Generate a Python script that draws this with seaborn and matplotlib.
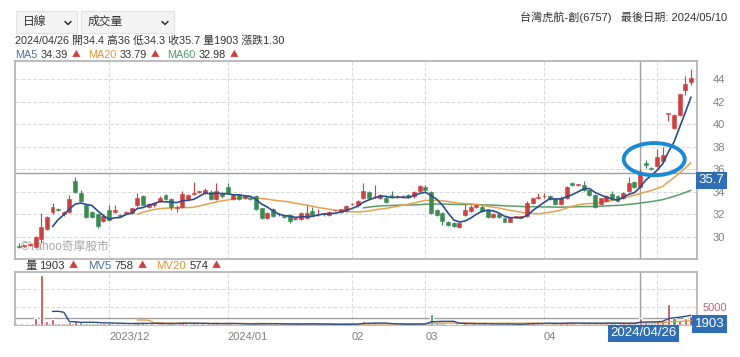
import numpy as np
import pandas as pd
import seaborn as sns
import matplotlib.pyplot as plt
from matplotlib.patches import Ellipse, Rectangle
from matplotlib.lines import Line2D

# 日K資料 (index 0 = 2023/11/09 ... index 119 = 2024/05/10)
opens = [29.2, 29.2, 29.3, 29.1, 29.85, 30.7, 32.2, 32.4, 32.0, 32.2,
         35.0, 33.9, 32.8, 32.2, 32.05, 31.4, 32.35, 32.2, 31.9, 32.1,
         32.1, 32.8, 33.6, 32.7, 32.8, 33.15, 33.7, 33.4, 32.6, 32.7,
         33.4, 33.8, 34.0, 33.9, 34.0, 33.4, 33.85, 34.4, 33.4, 33.75,
         33.45, 33.4, 33.6, 32.55, 31.7, 32.5, 32.0, 31.85, 31.95, 31.6,
         31.6, 31.7, 32.3, 32.0, 32.05, 31.95, 32.35, 32.2, 32.3, 32.9,
         32.8, 33.45, 34.0, 33.6, 33.5, 33.5, 33.7, 33.6, 33.6, 33.7,
         33.6, 34.1, 34.45, 34.0, 32.4, 32.1, 31.3, 31.2, 30.9, 31.95,
         32.3, 32.65, 32.7, 32.4, 31.75, 32.05, 31.7, 31.35, 31.8, 31.8,
         31.9, 33.0, 33.5, 33.6, 33.6, 33.4, 32.9, 33.5, 34.8, 34.6,
         34.6, 34.15, 33.75, 32.9, 33.2, 33.8, 33.6, 33.45, 34.05, 34.9,
         34.4, 36.6, 36.1, 36.25, 36.7, 40.9, 39.7, 40.8, 43.0, 43.7]
highs = [29.5, 29.3, 29.4, 30.1, 32.1, 31.9, 33.0, 32.6, 32.3, 33.7,
         35.3, 34.2, 32.9, 32.3, 32.1, 32.0, 32.8, 32.8, 32.0, 32.3,
         32.6, 33.9, 33.7, 33.0, 33.1, 33.6, 33.8, 33.5, 32.8, 34.1,
         33.8, 34.9, 34.1, 34.3, 34.2, 34.75, 33.9, 34.75, 33.8, 33.8,
         33.7, 33.5, 33.7, 32.6, 32.2, 32.6, 32.1, 31.9, 32.0, 31.7,
         32.2, 32.8, 32.7, 32.5, 32.1, 32.3, 32.4, 32.5, 32.8, 33.0,
         33.3, 34.8, 34.1, 34.6, 33.8, 33.6, 34.1, 33.7, 33.7, 33.8,
         34.1, 34.6, 34.6, 34.1, 32.5, 32.2, 31.4, 31.3, 31.3, 32.9,
         32.8, 32.9, 32.8, 32.5, 32.1, 32.1, 31.8, 31.7, 31.9, 31.9,
         33.2, 33.5, 33.9, 33.9, 33.7, 33.5, 33.6, 34.5, 34.9, 34.7,
         35.0, 34.2, 33.8, 33.5, 33.7, 34.1, 33.7, 34.0, 35.3, 35.0,
         36.0, 36.8, 36.2, 37.8, 38.0, 40.9, 40.9, 42.7, 44.3, 44.9]
lows = [29.0, 29.1, 29.2, 29.0, 29.5, 30.6, 32.0, 32.3, 31.9, 32.1,
        33.9, 33.1, 31.7, 31.7, 30.8, 31.3, 31.5, 32.1, 31.8, 32.0,
        32.0, 32.7, 32.8, 32.6, 32.7, 33.1, 33.3, 32.4, 32.2, 32.6,
        33.3, 33.7, 33.9, 33.8, 33.3, 33.3, 33.5, 33.8, 33.3, 33.3,
        33.4, 33.3, 32.4, 31.6, 31.6, 31.8, 31.9, 31.7, 31.2, 31.5,
        31.5, 31.6, 31.9, 31.9, 31.9, 31.9, 32.3, 32.1, 32.2, 32.8,
        32.7, 33.4, 33.4, 33.5, 33.4, 33.0, 33.5, 33.5, 33.5, 33.5,
        33.5, 34.0, 34.1, 32.0, 31.9, 31.1, 31.0, 30.9, 30.8, 31.9,
        32.2, 32.6, 32.2, 31.7, 31.7, 31.7, 31.3, 31.3, 31.7, 31.7,
        31.8, 32.9, 33.4, 33.5, 33.3, 32.8, 32.8, 33.4, 34.5, 34.5,
        34.1, 33.6, 32.6, 32.8, 33.1, 33.3, 33.1, 33.4, 34.0, 34.3,
        34.3, 36.1, 35.9, 36.2, 36.6, 40.3, 39.6, 40.7, 42.6, 43.5]
closes = [29.1, 29.2, 29.3, 30.0, 30.85, 31.8, 32.65, 32.4, 32.2, 33.35,
          33.95, 33.15, 31.75, 31.75, 30.95, 31.9, 31.5, 32.4, 31.9, 32.25,
          32.55, 33.5, 32.85, 32.9, 33.0, 33.5, 33.35, 32.7, 32.7, 33.8,
          33.7, 33.8, 34.0, 34.2, 33.4, 34.05, 33.6, 33.9, 33.75, 33.4,
          33.6, 33.4, 32.5, 31.7, 32.1, 31.9, 32.0, 31.8, 31.4, 31.6,
          32.1, 32.1, 31.95, 32.0, 32.05, 32.2, 32.35, 32.45, 32.75, 32.9,
          33.2, 34.1, 33.5, 33.6, 33.7, 33.1, 33.6, 33.6, 33.6, 33.55,
          34.0, 34.55, 34.15, 32.1, 31.95, 31.4, 31.1, 31.0, 31.2, 32.35,
          32.7, 32.8, 32.3, 31.75, 32.05, 31.75, 31.35, 31.65, 31.8, 31.8,
          33.0, 33.45, 33.5, 33.6, 33.4, 32.9, 33.5, 34.4, 34.6, 34.6,
          34.2, 33.7, 32.7, 33.45, 33.6, 33.4, 33.2, 33.9, 34.8, 34.4,
          35.7, 36.4, 36.0, 37.05, 37.3, 40.9, 40.8, 42.65, 43.55, 44.1]
volumes = [150, 250, 200, 1850, 13900, 1200, 1600, 500, 450, 900,
           1100, 700, 600, 500, 650, 500, 600, 400, 300, 350,
           400, 700, 500, 300, 350, 450, 400, 550, 300, 800,
           350, 600, 250, 300, 400, 600, 300, 450, 300, 300,
           250, 200, 500, 450, 300, 300, 200, 250, 350, 200,
           300, 350, 300, 200, 150, 250, 150, 200, 300, 200,
           350, 1100, 500, 450, 300, 350, 300, 200, 150, 200,
           350, 400, 350, 3000, 700, 600, 400, 400, 350, 500,
           350, 250, 300, 350, 250, 250, 300, 250, 150, 150,
           700, 600, 450, 400, 400, 500, 550, 750, 550, 350,
           500, 450, 650, 550, 450, 540, 400, 450, 550, 490,
           1903, 800, 500, 700, 1100, 5750, 1900, 1400, 1900, 2500]

month_pos = [16, 37, 59, 72, 93, 113]
month_labels = ["2023/12", "2024/01", "02", "03", "04", ""]

RED = "#cc4040"
GREEN = "#3a8a52"
BLUE = "#2c4c8c"
ORANGE = "#e8a050"
MGREEN = "#5c9c6c"
BOXBLUE = "#2f6db5"

df = pd.DataFrame({"open": opens, "high": highs, "low": lows, "close": closes, "vol": volumes})
df["x"] = np.arange(len(df))
prev = df["close"].shift(1).fillna(df["open"])
df["color"] = np.where(df["close"] > df["open"], RED,
               np.where(df["close"] < df["open"], GREEN,
               np.where(df["close"] >= prev, RED, GREEN)))
df["vcolor"] = np.where(df["close"] >= prev, RED, GREEN)

# 均線從第三根開始計算
c = df["close"].where(df["x"] >= 2)
v = df["vol"].where(df["x"] >= 2)
df["ma5"] = c.rolling(5).mean()
df["ma20"] = c.rolling(20).mean()
df["ma60"] = c.rolling(60).mean()
df["mv5"] = v.rolling(5).mean()
df["mv20"] = v.rolling(20).mean()

sns.set_theme(style="white")
plt.rcParams["font.family"] = ["Liberation Sans", "Noto Sans CJK TC", "DejaVu Sans"]

W, H = 740, 357
fig = plt.figure(figsize=(7.4, 3.57), dpi=100)


def fx(px):
    return px / W


def fy(py):
    return 1 - py / H


ax = fig.add_axes([fx(15), fy(259), (697 - 15) / W, (259 - 61) / H])
axv = fig.add_axes([fx(15), fy(325), (697 - 15) / W, (325 - 272) / H], sharex=ax)

# K線
ax.vlines(df["x"], df["low"], df["high"], colors=df["color"], lw=0.8, zorder=3)
body = np.maximum((df["close"] - df["open"]).abs(), 0.06)
ax.bar(df["x"], body, bottom=np.minimum(df["open"], df["close"]), width=0.7,
       color=df["color"], edgecolor=df["color"], lw=0.4, zorder=4)

sns.lineplot(x=df["x"], y=df["ma60"], ax=ax, color=MGREEN, lw=1.1, legend=False, zorder=2)
sns.lineplot(x=df["x"], y=df["ma20"], ax=ax, color=ORANGE, lw=1.1, legend=False, zorder=2)
sns.lineplot(x=df["x"], y=df["ma5"], ax=ax, color=BLUE, lw=1.2, legend=False, zorder=5)

ax.add_patch(Ellipse((112.5, 36.9), 10.8, 2.85, fill=False, ec="#1a8ad4", lw=2.8, zorder=6))

ax.set_xlim(-0.64, 120.07)
ax.set_ylim(28.05, 45.6)
ax.set_xlabel("")
ax.set_ylabel("")
ax.yaxis.tick_right()
ax.set_yticks(range(30, 46, 2))
ax.set_xticks(month_pos)
ax.tick_params(axis="y", length=0, pad=11, labelsize=8, labelcolor="#808080")
ax.tick_params(axis="x", length=0, labelbottom=False)
ax.grid(True, ls="--", color="#dcdcdc", lw=0.8)
ax.axvline(110, color="#a0a0a0", lw=1, zorder=1)
ax.axhline(35.7, color="#a0a0a0", lw=1, zorder=1)
for s in ax.spines.values():
    s.set_color("#b4b4b4")
ax.text(1.002, 35.55, "35.7", transform=ax.get_yaxis_transform(), ha="left", va="top",
        fontsize=9.5, color="white", bbox=dict(boxstyle="square,pad=0.2", fc=BOXBLUE, ec="none"),
        clip_on=False, zorder=10)
ax.text(0.008, 0.03, "©Yahoo奇摩股市", transform=ax.transAxes, fontsize=8.5, color="#a8a8a8",
        ha="left", va="bottom")

# 成交量
axv.bar(df["x"], df["vol"], width=0.55, color=df["vcolor"], zorder=3)
sns.lineplot(x=df["x"], y=df["mv20"], ax=axv, color=ORANGE, lw=1, legend=False, zorder=4)
sns.lineplot(x=df["x"], y=df["mv5"], ax=axv, color=BLUE, lw=1, legend=False, zorder=4)
axv.set_ylim(0, 14700)
axv.set_xlabel("")
axv.set_ylabel("")
axv.yaxis.tick_right()
axv.set_yticks([5000, 10000])
axv.set_yticklabels(["5000", ""])
axv.tick_params(axis="y", length=0, pad=4, labelsize=8, labelcolor="#c8607a")
axv.set_xticks(month_pos)
axv.set_xticklabels(month_labels, ha="left")
axv.tick_params(axis="x", length=0, pad=5, labelsize=8, labelcolor="#808080")
axv.grid(True, ls="--", color="#dcdcdc", lw=0.8)
axv.axvline(110, color="#a0a0a0", lw=1, zorder=1)
axv.axhline(1903, color="#a0a0a0", lw=1, zorder=1)
for s in axv.spines.values():
    s.set_color("#b4b4b4")
axv.text(0.997, 1903, "1903", transform=axv.get_yaxis_transform(), ha="left", va="top",
         fontsize=9.5, color="white", bbox=dict(boxstyle="square,pad=0.2", fc=BOXBLUE, ec="none"),
         clip_on=False, zorder=10)
axv.text(110.6, -0.16, "2024/04/26", transform=axv.get_xaxis_transform(), ha="center", va="center",
         fontsize=9.5, color="white", bbox=dict(boxstyle="square,pad=0.2", fc=BOXBLUE, ec="none"),
         clip_on=False, zorder=10)

# 上方選單與說明文字
for x0, x1 in [(16, 77), (81, 174)]:
    fig.add_artist(Rectangle((fx(x0), fy(33)), (x1 - x0) / W, 22 / H, transform=fig.transFigure,
                             fc="#f4f4f4", ec="#e2e2e2", lw=0.8))
for cx in [68, 165]:
    fig.add_artist(Line2D([fx(cx - 3), fx(cx), fx(cx + 3)], [fy(21.5), fy(24.5), fy(21.5)],
                          transform=fig.transFigure, color="#333333", lw=1.1))
fig.text(fx(23), fy(22), "日線", fontsize=8.5, color="#333333", va="center")
fig.text(fx(88), fy(22), "成交量", fontsize=8.5, color="#333333", va="center")
fig.text(fx(727), fy(17), "台灣虎航-創(6757)   最後日期: 2024/05/10", fontsize=8,
         color="#333333", ha="right", va="center")
fig.text(fx(15), fy(41), "2024/04/26 開34.4 高36 低34.3 收35.7 量1903 漲跌1.30",
         fontsize=7.8, color="#333333", va="center")

renderer = fig.canvas.get_renderer()
CJK = ["Noto Sans CJK TC", "DejaVu Sans"]


def chain(x_px, y_px, parts, size):
    x = x_px
    for t, col, gap in parts:
        fam = CJK if t == "▲" else None
        txt = fig.text(fx(x), fy(y_px), t, fontsize=size * (0.8 if fam else 1), color=col,
                       va="center", family=fam)
        bb = txt.get_window_extent(renderer=renderer)
        x = bb.x1 + gap


chain(15, 55, [("MA5", "#4a6fa8", 3), ("34.39", "#333333", 4), ("▲", RED, 8),
               ("MA20", "#e0963c", 3), ("33.79", "#333333", 4), ("▲", RED, 8),
               ("MA60", "#4a9a6a", 3), ("32.98", "#333333", 4), ("▲", RED, 0)], 7.8)
chain(25, 266, [("量", "#333333", 3), ("1903", "#333333", 4), ("▲", RED, 10),
                ("MV5", "#4a6fa8", 3), ("758", "#333333", 4), ("▲", RED, 10),
                ("MV20", "#e0963c", 3), ("574", "#333333", 4), ("▲", RED, 0)], 8.2)

fig.savefig("out.png", dpi=100)
